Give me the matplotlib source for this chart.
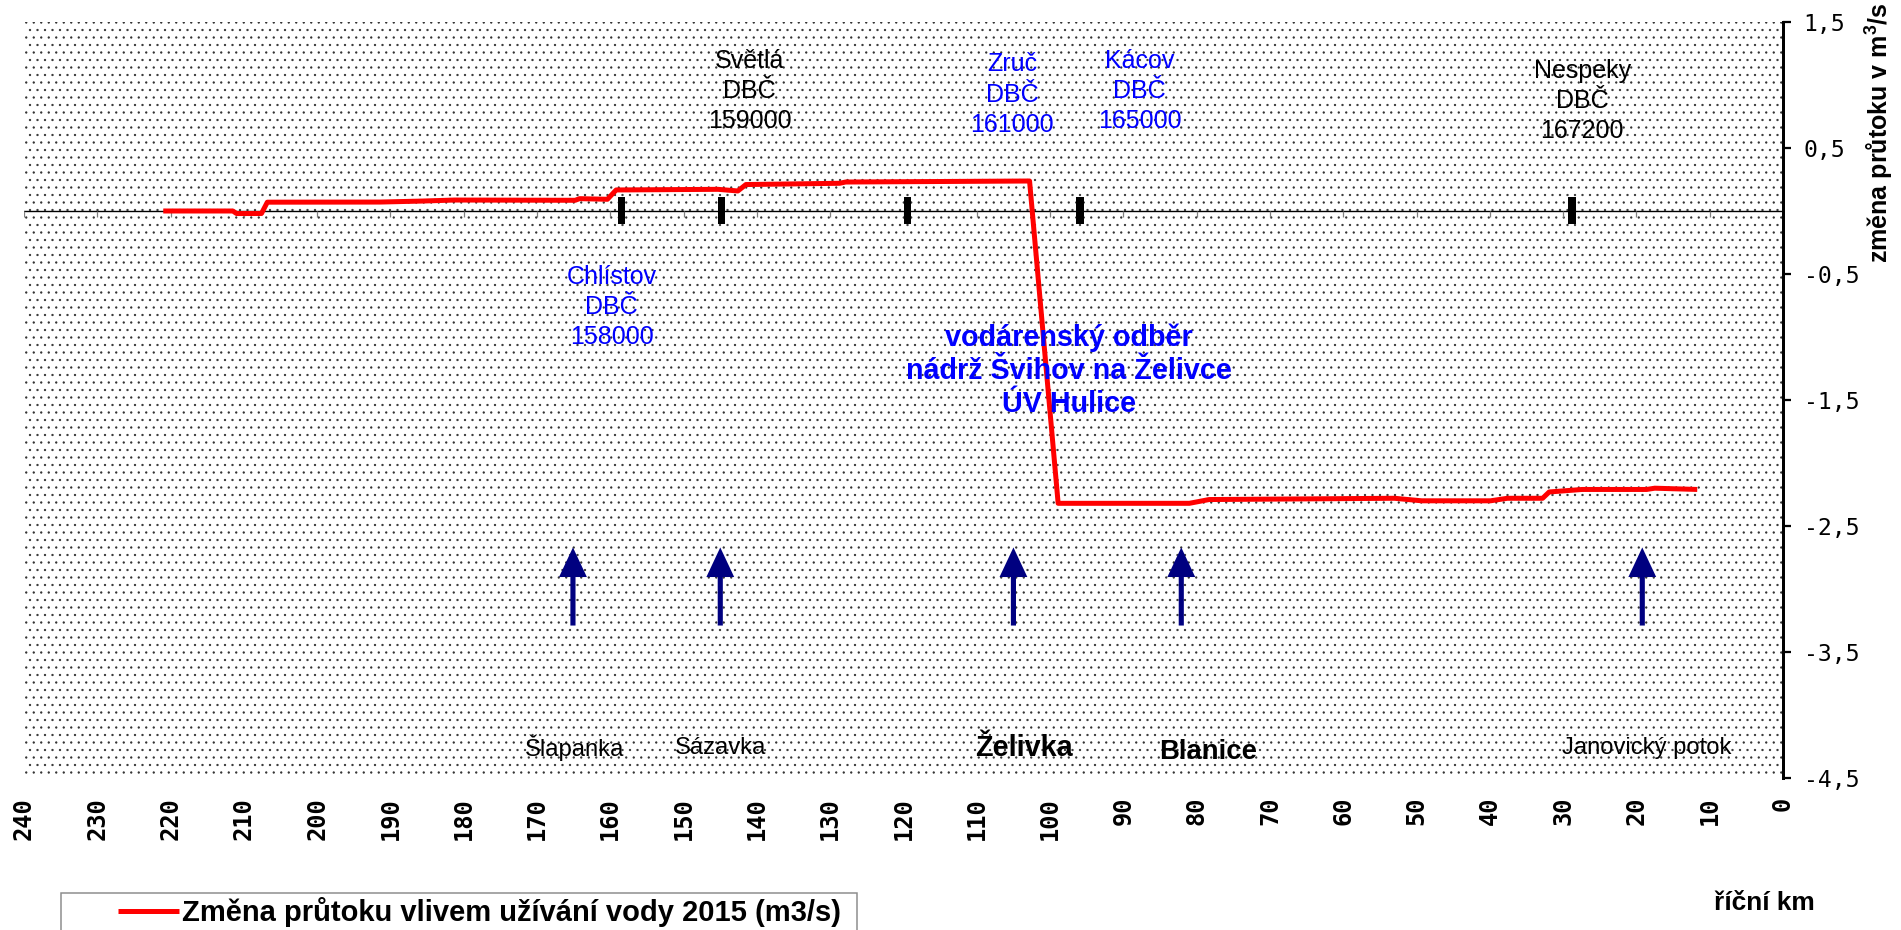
import matplotlib
matplotlib.use('Agg')
import matplotlib.pyplot as plt
import numpy as np
from matplotlib.patches import Rectangle

plt.rcParams['font.family'] = ['Liberation Sans', 'DejaVu Sans']
plt.rcParams['mathtext.default'] = 'regular'
plt.rcParams['hatch.linewidth'] = 0.6

# ---------------- data ----------------
river_km = [221.0, 211.5, 211.0, 207.6, 206.8, 191.4, 185.6, 181.3, 164.8, 164.2,
            160.4, 159.2, 145.3, 142.6, 141.5, 128.7, 127.9, 102.8, 98.9, 81.0,
            78.3, 53.0, 49.3, 39.9, 37.6, 32.8, 31.9, 27.4, 18.6, 17.5, 11.7]
flow_change = [0.00, 0.00, -0.02, -0.02, 0.07, 0.071, 0.079, 0.087, 0.085, 0.098,
               0.093, 0.167, 0.172, 0.159, 0.21, 0.22, 0.23, 0.238, -2.32, -2.32,
               -2.29, -2.28, -2.30, -2.30, -2.28, -2.28, -2.23, -2.21, -2.21, -2.20, -2.21]
series_label = 'Změna průtoku vlivem užívání vody 2015 (m3/s)'

gauge_km = [158.5, 144.8, 119.5, 95.9, 28.8]
gauge_labels = ['Chlístov\nDBČ\n158000', 'Světlá\nDBČ\n159000', 'Zruč\nDBČ\n161000',
                'Kácov\nDBČ\n165000', 'Nespeky\nDBČ\n167200']

tributary_km = [165.1, 145.0, 105.0, 82.1, 19.2]
tributary_names = ['Šlapanka', 'Sázavka', 'Želivka', 'Blanice', 'Janovický potok']

abstraction_km = 97.4
abstraction_text = 'vodárenský odběr\nnádrž Švihov na Želivce\nÚV Hulice'

x_ticks = list(range(240, -1, -10))
y_ticks = [1.5, 0.5, -0.5, -1.5, -2.5, -3.5, -4.5]
y_tick_labels = ['1,5', '0,5', '-0,5', '-1,5', '-2,5', '-3,5', '-4,5']

# ---------------- layout / style ----------------
W, H, DPI = 1901, 930, 90
fig = plt.figure(figsize=(W / DPI, H / DPI), dpi=DPI)
ax = fig.add_axes([24 / W, 1 - 778 / H, 1759 / W, 756 / H])
ax.set_xlim(240, 0)
ax.set_ylim(-4.5, 1.5)

ax.patch.set_facecolor('white')
ax.patch.set_hatch('..')
ax.patch.set_edgecolor('#303030')
ax.patch.set_linewidth(0)

for s in ['left', 'top', 'bottom']:
    ax.spines[s].set_visible(False)
ax.spines['right'].set_linewidth(2.4)

ax.yaxis.tick_right()
ax.set_yticks(y_ticks)
ax.set_yticklabels(y_tick_labels, fontfamily='DejaVu Sans Mono', fontsize=18.5)
ax.tick_params(axis='y', direction='out', length=6.5, width=1.8, pad=10)

ax.set_xticks(x_ticks)
ax.set_xticklabels([str(v) for v in x_ticks], fontfamily='DejaVu Sans Mono',
                   fontweight='bold', fontsize=19, rotation=90)
ax.tick_params(axis='x', length=0, pad=15)

# zero line with small downward ticks
ax.axhline(0, color='black', lw=1.1, zorder=2)
ax.plot(x_ticks, np.zeros(len(x_ticks)), ls='none', marker=3, ms=5,
        mec='#808080', mew=1, zorder=2)

# gauge markers
ax.bar(gauge_km, 0.21, bottom=-0.1, width=1.0, color='black', zorder=3)

# main series
line, = ax.plot(river_km, flow_change, color='#ff0000', lw=4,
                solid_joinstyle='round', solid_capstyle='butt', zorder=4,
                label=series_label)

# tributary arrows
for km in tributary_km:
    ax.arrow(km, -3.29, 0, 0.62, width=0.7, head_width=3.8, head_length=0.235,
             length_includes_head=True, color='#000080', lw=0, zorder=3)

# station labels
label_pos = [(159.8, -0.76, 'blue'), (141.0, 0.952, 'black'), (105.2, 0.924, 'blue'),
             (87.8, 0.95, 'blue'), (27.4, 0.876, 'black')]
for (x, y, c), txt in zip(label_pos, gauge_labels):
    ax.text(x, y, txt, ha='center', va='center', fontsize=20, color=c,
            linespacing=1.32, zorder=5)

ax.text(abstraction_km, -1.27, abstraction_text, ha='center', va='center',
        fontsize=23, fontweight='bold', color='blue', linespacing=1.22, zorder=5)

# tributary names
name_pos = [(164.9, -4.262, 19, 'normal'), (144.9, -4.262, 19, 'normal'),
            (103.6, -4.262, 23, 'bold'), (78.5, -4.294, 22, 'bold'),
            (18.6, -4.262, 19, 'normal')]
for (x, y, fs, fw), name in zip(name_pos, tributary_names):
    ax.text(x, y, name, ha='center', va='center', fontsize=fs, fontweight=fw,
            color='black', zorder=5)

# axis titles
fig.text(1880 / W, 1 - 133 / H, 'změna průtoku v m$^3$/s', rotation=90,
         ha='center', va='center', fontsize=20, fontweight='bold')
fig.text(1764 / W, 1 - 903 / H, 'říční km', ha='center', va='center',
         fontsize=21, fontweight='bold')

# legend
fig.legend(handles=[line], loc='center left',
           bbox_to_anchor=(118 / W, 1 - 912 / H), frameon=False,
           borderpad=0, borderaxespad=0, handlelength=2.1, handletextpad=0.1,
           prop=dict(family='Liberation Sans', weight='bold', size=23.3))
fig.add_artist(Rectangle((61 / W, -0.05), (857 - 61) / W, 0.05 + 1 - 893 / H,
                         transform=fig.transFigure, fill=False,
                         edgecolor='#8c8c8c', lw=1.2))

fig.savefig('out.png', dpi=DPI)
